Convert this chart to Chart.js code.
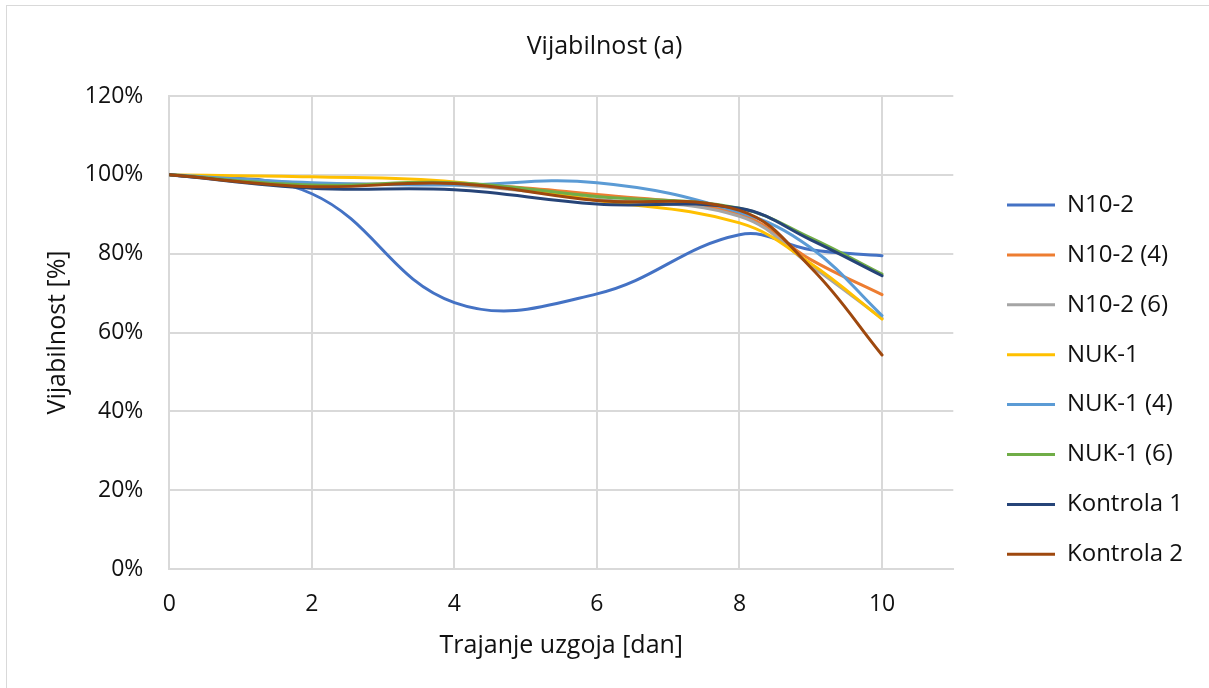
<!DOCTYPE html>
<html>
<head>
<meta charset="utf-8">
<script src="https://cdn.jsdelivr.net/npm/chart.js@4"></script>
<style>
  html, body { margin: 0; padding: 0; background: #fff; overflow: hidden; }
  #frame { position: absolute; left: 6px; top: 5px; width: 1400px; height: 900px; border: 1px solid #d9d9d9; }
  #wrap { position: absolute; left: 0; top: 0; width: 1209px; height: 688px; }
</style>
</head>
<body>
<div id="frame"></div>
<div id="wrap"><canvas id="c" width="1209" height="688"></canvas></div>
<script>
// dani uzgoja (x) i vijabilnost u % po uzorku
var days = [0, 2, 4, 6, 8, 9, 10]
var seriesNames = ['N10-2', 'N10-2 (4)', 'N10-2 (6)', 'NUK-1', 'NUK-1 (4)', 'NUK-1 (6)', 'Kontrola 1', 'Kontrola 2']
var n10_2 = [100, 95.2, 67.6, 69.8, 84.8, 81, 79.5]
var n10_2_4 = [100, 97.5, 97.6, 95, 90, 78.5, 69.6]
var n10_2_6 = [100, 97.8, 97.4, 93.8, 89.5, 77, 63.6]
var nuk1 = [100, 99.5, 98.2, 93.5, 87.8, 77.5, 63.4]
var nuk1_4 = [100, 98, 97.4, 98, 90.5, 81.5, 64.3]
var nuk1_6 = [100, 97.4, 98, 94.5, 91.5, 84, 74.8]
var kontrola1 = [100, 96.6, 96.2, 92.6, 91.5, 83.5, 74.4]
var kontrola2 = [100, 97, 97.8, 93.5, 91, 76.5, 54.3]
var seriesValues = [n10_2, n10_2_4, n10_2_6, nuk1, nuk1_4, nuk1_6, kontrola1, kontrola2]
var colors = ['#4472C4', '#ED7D31', '#A5A5A5', '#FFC000', '#5B9BD5', '#70AD47', '#264478', '#9E480E']
var xTicks = [0, 2, 4, 6, 8, 10]
var yTicks = [0, 20, 40, 60, 80, 100, 120]

var FONT = '"Open Sans", sans-serif'
Chart.defaults.font.family = FONT
Chart.defaults.color = '#111'

// legenda: linije legende pocinju na x = 1007, plot zavrsava na 953
var W = 1209
var plotRight = 953.3
var legendPad = 25.9
var legendBox = 48
var legendFont = 24
var legendShift = 1007 - legendPad - plotRight

var datasets = seriesNames.map(function (name, i) {
  return {
    label: name,
    data: days.map(function (d, j) { return { x: d, y: seriesValues[i][j] } }),
    borderColor: colors[i],
    backgroundColor: colors[i],
    borderWidth: 3,
    borderCapStyle: 'round',
    borderJoinStyle: 'round',
    pointRadius: 0,
    pointHoverRadius: 0,
    tension: 0.4,
    fill: false,
    order: seriesNames.length - i
  }
})

// pomakne legendu udesno nakon rasporeda, naslov centriran na cijelu sirinu
var fixLayout = {
  id: 'fixLayout',
  afterLayout: function (chart) {
    chart.legend.left += legendShift
    chart.legend.right += legendShift
    if (chart.titleBlock) {
      chart.titleBlock.left = 0
      chart.titleBlock.right = W
      chart.titleBlock.width = W
    }
  }
}

var gridColor = '#d9d9d9'

var chart = new Chart(document.getElementById('c'), {
  type: 'line',
  data: { datasets: datasets },
  plugins: [fixLayout],
  options: {
    responsive: false,
    animation: false,
    layout: { padding: { left: 0, top: 0, right: 0, bottom: 0 } },
    plugins: {
      title: {
        display: true,
        text: 'Vijabilnost (a)',
        font: { size: 25, weight: 'normal' },
        color: '#111',
        padding: { top: 32, bottom: 34 }
      },
      legend: {
        position: 'right',
        align: 'center',
        title: { display: true, text: '', font: { size: 10 }, padding: { top: 59.3, bottom: 0 } },
        labels: {
          usePointStyle: true,
          pointStyle: 'line',
          pointStyleWidth: legendBox,
          padding: legendPad,
          font: { size: legendFont },
          color: '#111',
          sort: function (a, b) { return a.datasetIndex - b.datasetIndex }
        }
      },
      tooltip: { enabled: false }
    },
    scales: {
      x: {
        type: 'linear',
        min: 0,
        max: 11,
        bounds: 'data',
        grid: { color: gridColor, lineWidth: 2, drawTicks: false },
        border: { color: gridColor, width: 2 },
        afterBuildTicks: function (s) { s.ticks = xTicks.map(function (v) { return { value: v } }) },
        ticks: { padding: 22, font: { size: 23 }, color: '#111' },
        title: { display: true, text: 'Trajanje uzgoja [dan]', font: { size: 25 }, color: '#111', padding: { top: 0, bottom: 27 } },
        afterFit: function (s) { s.height = 119 }
      },
      y: {
        min: 0,
        max: 120,
        grid: { color: gridColor, lineWidth: 2, drawTicks: false },
        border: { color: gridColor, width: 2 },
        afterBuildTicks: function (s) { s.ticks = yTicks.map(function (v) { return { value: v } }) },
        ticks: { padding: 26, font: { size: 23 }, color: '#111', callback: function (v) { return v + '%' } },
        title: { display: true, text: 'Vijabilnost [%]', font: { size: 25 }, color: '#111', padding: { top: 43, bottom: 0 } },
        afterFit: function (s) { s.width = 169.3 }
      }
    }
  }
})

// desni odmak prema stvarnoj sirini legende
chart.options.layout.padding.right = W - plotRight - chart.legend.width
chart.update()
</script>
</body>
</html>
